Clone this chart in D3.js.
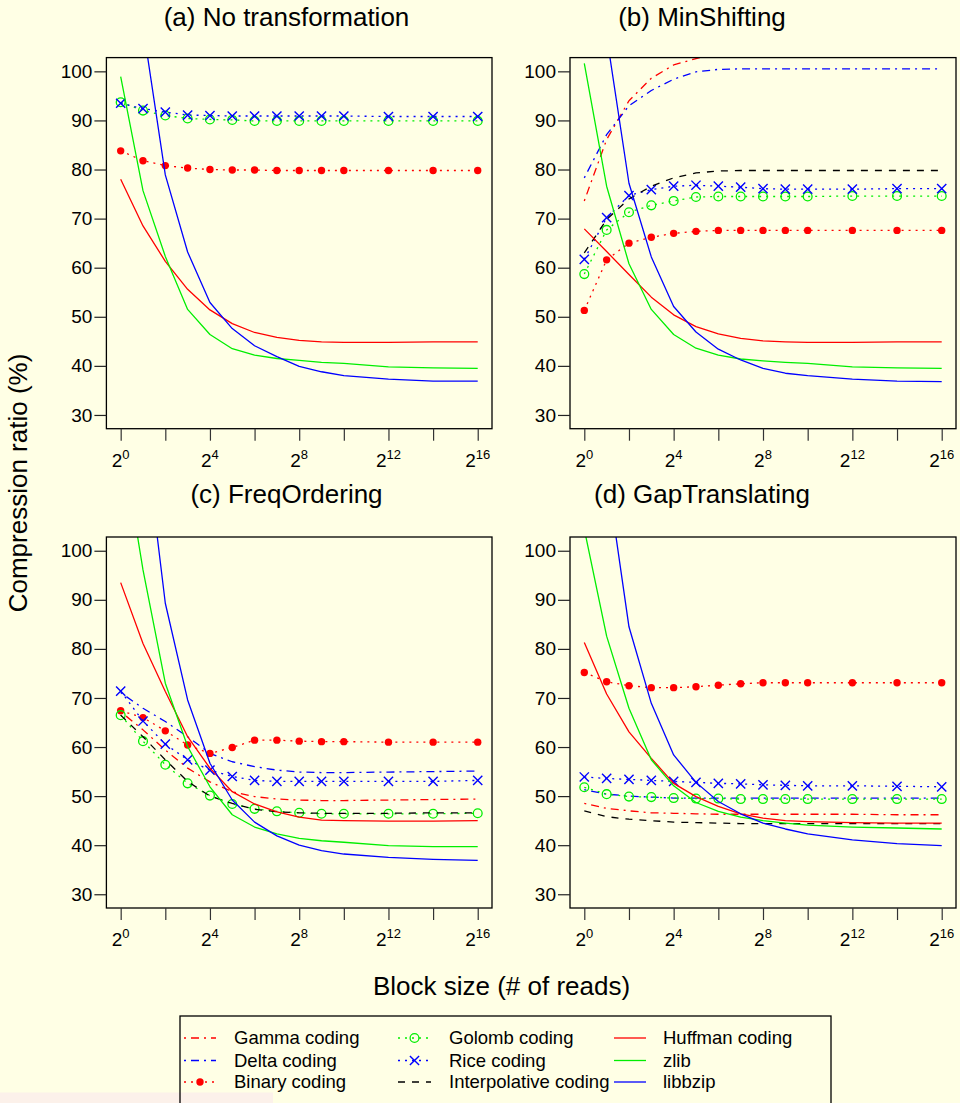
<!DOCTYPE html>
<html><head><meta charset="utf-8">
<script src="https://cdn.jsdelivr.net/npm/d3@7"></script>
<style>body{margin:0;background:#FFFFE5;} svg{display:block;font-family:"Liberation Sans",Arial,sans-serif;}</style>
</head><body>
<svg id="chart" width="960" height="1103"></svg>
<script>
// ---------- data ----------
const blockExp = [0,1,2,3,4,5,6,7,8,9,10,12,14,16];   // block size = 2^e
const xTickExp = [0,2,4,6,8,10,12,14,16];
const xLabelExp = [0,4,8,12,16];
const yTicks = [30,40,50,60,70,80,90,100];
const panelTitles = ["(a) No transformation","(b) MinShifting","(c) FreqOrdering","(d) GapTranslating"];
const seriesNames = ["Gamma coding","Delta coding","Binary coding","Golomb coding","Rice coding","Interpolative coding","Huffman coding","zlib","libbzip"];
const N = null;

// (a) No transformation  (Gamma / Delta / Interpolative lie above the plotted range)
const gammaA   = [N,N,N,N,N,N,N,N,N,N,N,N,N,N];
const deltaA   = [N,N,N,N,N,N,N,N,N,N,N,N,N,N];
const binaryA  = [83.8,81.8,80.8,80.3,80.0,79.9,79.9,79.8,79.8,79.8,79.8,79.8,79.8,79.8];
const golombA  = [93.7,92.0,91.0,90.4,90.2,90.1,89.9,89.9,89.9,89.9,89.9,89.9,89.9,89.9];
const riceA    = [93.5,92.4,91.7,91.1,91.0,90.9,90.9,90.9,90.9,90.9,90.9,90.8,90.8,90.8];
const interpA  = [N,N,N,N,N,N,N,N,N,N,N,N,N,N];
const huffmanA = [78.0,68.5,61.3,55.6,51.4,48.6,46.8,45.8,45.2,44.9,44.8,44.8,44.9,44.9];
const zlibA    = [98.9,75.7,62.3,51.5,46.4,43.5,42.2,41.5,41.1,40.7,40.5,39.8,39.6,39.5];
const libbzipA = [N,109.2,78.9,63.2,52.9,47.6,44.1,41.9,39.9,38.8,38.0,37.3,36.9,36.9];

// (b) MinShifting
const gammaB   = [73.6,86.1,94.0,98.6,101.3,102.6,103.8,N,N,N,N,N,N,N];
const deltaB   = [78.3,87.1,93.0,96.1,98.4,99.9,100.4,100.5,100.5,100.5,100.5,100.5,100.5,100.5];
const binaryB  = [51.3,61.6,65.0,66.2,67.0,67.4,67.6,67.6,67.6,67.6,67.6,67.6,67.6,67.6];
const golombB  = [58.7,67.7,71.3,72.7,73.6,74.4,74.5,74.5,74.5,74.5,74.5,74.6,74.6,74.6];
const riceB    = [61.7,70.2,74.7,75.9,76.6,76.8,76.6,76.4,76.1,76.0,76.0,76.0,76.1,76.1];
const interpB  = [63.0,69.8,74.0,76.6,78.3,79.3,79.7,79.8,79.8,79.8,79.8,79.8,79.8,79.8];
const huffmanB = [67.9,63.3,58.6,54.0,50.4,48.0,46.5,45.6,45.1,44.9,44.8,44.8,44.9,44.9];
const zlibB    = [101.6,76.6,60.8,51.5,46.4,43.6,42.2,41.4,41.0,40.7,40.5,39.8,39.6,39.5];
const libbzipB = [N,107.3,77.2,62.2,52.1,46.9,43.4,41.2,39.5,38.5,38.0,37.3,36.9,36.8];

// (c) FreqOrdering
const gammaC   = [67.2,63.5,59.4,55.7,52.9,50.9,49.9,49.4,49.2,49.1,49.1,49.2,49.3,49.4];
const deltaC   = [71.1,67.9,65.2,62.1,58.7,57.0,56.0,55.3,54.9,54.8,54.8,54.9,55.0,55.1];
const binaryC  = [67.4,66.0,63.3,60.4,58.7,59.9,61.4,61.4,61.2,61.1,61.1,61.0,61.0,61.0];
const golombC  = [66.5,61.2,56.4,52.6,50.1,48.4,47.4,46.9,46.6,46.4,46.4,46.4,46.4,46.5];
const riceC    = [71.4,65.3,60.6,57.4,55.3,54.0,53.2,53.0,53.0,53.0,53.0,53.0,53.0,53.2];
const interpC  = [66.5,62.1,57.4,53.0,50.0,48.5,47.3,46.8,46.6,46.5,46.5,46.5,46.6,46.6];
const huffmanC = [93.5,81.1,71.3,62.1,55.7,50.9,48.4,46.8,45.7,45.1,45.0,44.9,44.9,45.0];
const zlibC    = [124.0,96.1,73.0,60.1,51.9,46.2,43.7,42.3,41.4,40.9,40.6,39.9,39.7,39.7];
const libbzipC = [N,126.8,89.3,69.6,56.7,49.2,44.7,41.9,40.0,38.9,38.2,37.5,37.1,36.9];

// (d) GapTranslating
const gammaD   = [48.5,47.5,47.0,46.6,46.5,46.4,46.3,46.3,46.3,46.3,46.3,46.3,46.2,46.2];
const deltaD   = [51.3,50.4,50.0,49.8,49.6,49.6,49.6,49.6,49.6,49.6,49.6,49.6,49.6,49.6];
const binaryD  = [75.2,73.3,72.5,72.1,72.1,72.3,72.6,72.9,73.1,73.1,73.1,73.1,73.1,73.1];
const golombD  = [51.8,50.4,49.9,49.8,49.6,49.5,49.5,49.4,49.4,49.4,49.4,49.4,49.4,49.4];
const riceD    = [53.9,53.6,53.4,53.2,53.0,52.8,52.6,52.5,52.3,52.2,52.1,52.1,52.0,51.9];
const interpD  = [47.0,45.8,45.3,45.0,44.7,44.6,44.5,44.4,44.4,44.4,44.4,44.4,44.4,44.4];
const huffmanD = [81.3,70.8,63.1,57.7,52.6,49.9,47.9,46.4,45.5,45.0,44.8,44.6,44.5,44.5];
const zlibD    = [104.4,82.6,67.9,57.4,52.1,48.7,46.9,45.7,45.0,44.5,44.1,43.7,43.5,43.3];
const libbzipD = [N,116.1,84.5,68.9,58.4,52.8,48.9,46.4,44.5,43.3,42.3,41.1,40.3,39.9];

// ---------- styles ----------
const BG = "#FFFFE5";
const styles = [
  {color:"#FF0000", dash:"2,5,8,5", marker:null},     // Gamma
  {color:"#0000FF", dash:"2,5,8,5", marker:null},     // Delta
  {color:"#FF0000", dash:"2,5",     marker:"dot"},    // Binary
  {color:"#00EE00", dash:"2,5",     marker:"circle"}, // Golomb
  {color:"#0000FF", dash:"2,5",     marker:"cross"},  // Rice
  {color:"#000000", dash:"7,7",     marker:null},     // Interpolative
  {color:"#FF0000", dash:null,      marker:null},     // Huffman
  {color:"#00EE00", dash:null,      marker:null},     // zlib
  {color:"#0000FF", dash:null,      marker:null}      // libbzip
];
const panels = [
  [gammaA,deltaA,binaryA,golombA,riceA,interpA,huffmanA,zlibA,libbzipA],
  [gammaB,deltaB,binaryB,golombB,riceB,interpB,huffmanB,zlibB,libbzipB],
  [gammaC,deltaC,binaryC,golombC,riceC,interpC,huffmanC,zlibC,libbzipC],
  [gammaD,deltaD,binaryD,golombD,riceD,interpD,huffmanD,zlibD,libbzipD]
];

// ---------- drawing ----------
const svg = d3.select("#chart");
svg.append("rect").attr("width",960).attr("height",1103).attr("fill",BG);

const cols = [[106.4,492],[570,956]];
const rows = [[57.6,428.7],[537,908]];
const titleX = [286.5,702];
const titleY = [25.7,502.5];

function drawMarker(g, type, cx, cy, color){
  if(type==="dot"){
    g.append("circle").attr("cx",cx).attr("cy",cy).attr("r",3.7).attr("fill",color);
  } else if(type==="circle"){
    g.append("circle").attr("cx",cx).attr("cy",cy).attr("r",4.4).attr("fill","none").attr("stroke",color).attr("stroke-width",1.3);
  } else if(type==="cross"){
    const s=4.6;
    g.append("path").attr("d",`M${cx-s},${cy-s}L${cx+s},${cy+s}M${cx-s},${cy+s}L${cx+s},${cy-s}`)
      .attr("stroke",color).attr("stroke-width",1.4).attr("fill","none");
  }
}

panels.forEach((series,i)=>{
  const [L,R] = cols[i%2], [T,B] = rows[Math.floor(i/2)];
  const x = d3.scaleLinear().domain([-0.64,16.64]).range([L,R]);
  const y = d3.scaleLinear().domain([27.2,102.8]).range([B,T]);
  const g = svg.append("g");

  const clipId = "clip"+i;
  svg.append("clipPath").attr("id",clipId).append("rect")
    .attr("x",L).attr("y",T).attr("width",R-L).attr("height",B-T);
  const plot = g.append("g").attr("clip-path",`url(#${clipId})`);

  const line = d3.line().defined(d=>d[1]!==null).x(d=>x(d[0])).y(d=>y(d[1]));
  series.forEach((vals,si)=>{
    const st = styles[si];
    const pts = blockExp.map((e,k)=>[e,vals[k]]);
    if(pts.every(p=>p[1]===null)) return;
    plot.append("path").datum(pts).attr("d",line)
      .attr("fill","none").attr("stroke",st.color).attr("stroke-width",1.3)
      .attr("stroke-dasharray",st.dash).attr("stroke-linejoin","round");
    if(st.marker){
      pts.filter(p=>p[1]!==null).forEach(p=>drawMarker(plot,st.marker,x(p[0]),y(p[1]),st.color));
    }
  });

  // box
  g.append("rect").attr("x",L).attr("y",T).attr("width",R-L).attr("height",B-T)
    .attr("fill","none").attr("stroke","#000").attr("stroke-width",1.3);

  // y axis
  const ya = g.append("g").attr("transform",`translate(${L},0)`)
    .call(d3.axisLeft(y).tickValues(yTicks).tickSize(12).tickPadding(2));
  ya.select(".domain").remove();
  ya.selectAll("line").attr("stroke","#222").attr("stroke-width",1.2);
  ya.selectAll("text").attr("font-size",19).attr("font-family","Liberation Sans, Arial, sans-serif").attr("fill","#000");

  // x axis
  const xa = g.append("g").attr("transform",`translate(0,${B})`)
    .call(d3.axisBottom(x).tickValues(xTickExp).tickSize(12).tickFormat(""));
  xa.select(".domain").remove();
  xa.selectAll("line").attr("stroke","#333").attr("stroke-width",1.2);
  xLabelExp.forEach(e=>{
    const t = g.append("text").attr("x",x(e)).attr("y",B+38).attr("text-anchor","middle")
      .attr("font-size",19).attr("fill","#000");
    t.append("tspan").text("2");
    t.append("tspan").attr("font-size",13).attr("dy",-8).text(e);
  });

  // title
  svg.append("text").attr("x",titleX[i%2]).attr("y",titleY[Math.floor(i/2)])
    .attr("text-anchor","middle").attr("font-size",26).attr("fill","#000").text(panelTitles[i]);
});

// axis titles
svg.append("text").attr("transform","translate(27,483) rotate(-90)").attr("text-anchor","middle")
  .attr("font-size",26).attr("fill","#000").text("Compression ratio (%)");
svg.append("text").attr("x",501.5).attr("y",995).attr("text-anchor","middle")
  .attr("font-size",26).attr("fill","#000").text("Block size (# of reads)");

// pinkish strip at bottom-left
svg.append("rect").attr("x",0).attr("y",1092.5).attr("width",273).attr("height",11).attr("fill","#FCF1EA");

// legend
const lg = svg.append("g");
lg.append("rect").attr("x",180).attr("y",1016).attr("width",651).attr("height",100)
  .attr("fill","none").attr("stroke","#000").attr("stroke-width",1.3);
const legCols = [{l0:184,l1:216,tx:234},{l0:398,l1:431,tx:449},{l0:614,l1:646,tx:663}];
const legRows = [1038,1060.5,1082];
seriesNames.forEach((name,si)=>{
  const c = legCols[Math.floor(si/3)], yy = legRows[si%3], st = styles[si];
  lg.append("line").attr("x1",c.l0).attr("x2",c.l1).attr("y1",yy).attr("y2",yy)
    .attr("stroke",st.color).attr("stroke-width",1.3).attr("stroke-dasharray",st.dash);
  if(st.marker) drawMarker(lg,st.marker,(c.l0+c.l1)/2,yy,st.color);
  lg.append("text").attr("x",c.tx).attr("y",yy).attr("dy","0.35em")
    .attr("font-size",18.5).attr("fill","#000").text(name);
});
</script>
</body></html>
